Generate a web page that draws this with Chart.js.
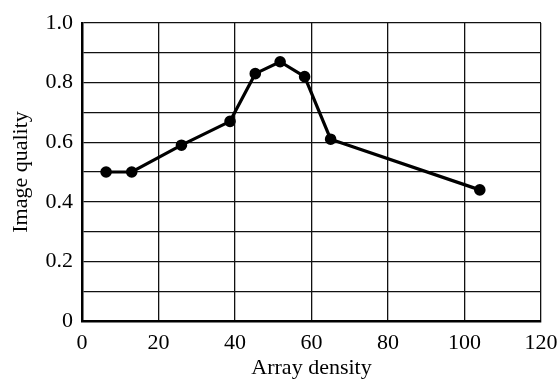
<!DOCTYPE html>
<html><head><meta charset="utf-8">
<script src="https://cdn.jsdelivr.net/npm/chart.js@4/dist/chart.umd.min.js"></script>
<style>html,body{margin:0;padding:0;background:#fff}#wrap{width:560px;height:379px}</style>
</head><body><div id="wrap"><canvas id="c" width="560" height="379"></canvas></div>
<script>
const densities = [6.3, 13, 26, 38.7, 45.3, 51.8, 58.2, 65, 104];
const quality = [0.50, 0.50, 0.59, 0.67, 0.83, 0.87, 0.82, 0.61, 0.44];
const xTitle = 'Array density';
const yTitle = 'Image quality';

const pts = densities.map((x, i) => ({x: x, y: quality[i]}));
const fam = '"Liberation Serif", "Times New Roman", serif';
const font = {family: fam, size: 22};
new Chart(document.getElementById('c'), {
  type: 'scatter',
  data: {datasets: [{data: pts, showLine: true, borderColor: '#000', backgroundColor: '#000',
    borderWidth: 3.2, pointRadius: 4.2, pointHoverRadius: 4.2, tension: 0}]},
  options: {
    responsive: false, animation: false, devicePixelRatio: 1,
    layout: {padding: {left: 0, right: 19, top: 23, bottom: 0}},
    plugins: {legend: {display: false}, tooltip: {enabled: false}},
    scales: {
      x: {type: 'linear', min: 0, max: 120,
        ticks: {stepSize: 20, color: '#000', font: font, padding: 9, maxRotation: 0},
        grid: {color: '#111', lineWidth: 1.3, drawTicks: false},
        border: {color: '#000', width: 2.5},
        title: {display: true, text: xTitle, color: '#000', font: {family: fam, size: 22}, padding: {top: 0, bottom: -2}},
        afterFit: s => { s.height = 58; s.paddingRight = 0; s.paddingLeft = 0; }
      },
      y: {type: 'linear', min: 0, max: 1,
        ticks: {stepSize: 0.1, autoSkip: false, color: '#000', font: font, padding: 9,
          callback: v => { const k = Math.round(v * 10); if (k % 2) return ''; return k === 0 ? '0' : (k / 10).toFixed(1); }},
        grid: {color: '#111', lineWidth: 1.3, drawTicks: false},
        border: {color: '#000', width: 2.5},
        title: {display: true, text: yTitle, color: '#000', font: {family: fam, size: 22}, padding: {top: 8, bottom: 0}},
        afterFit: s => { s.width = 82; s.paddingTop = 0; s.paddingBottom = 0; }
      }
    }
  }
});
</script></body></html>
